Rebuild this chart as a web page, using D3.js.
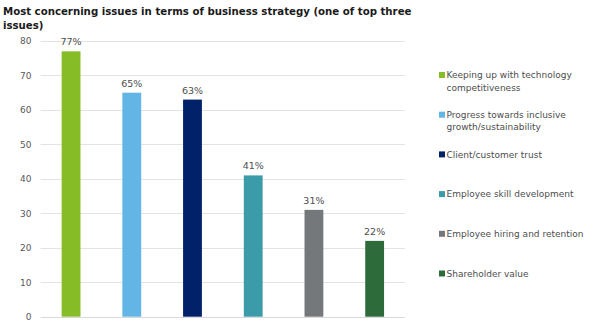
<!DOCTYPE html>
<html><head><meta charset="utf-8">
<script src="https://cdn.jsdelivr.net/npm/d3@7"></script>
<style>body{margin:0;background:#fff;} svg{display:block;}</style>
</head><body>
<script>
const categories = ["Keeping up with technology competitiveness","Progress towards inclusive growth/sustainability","Client/customer trust","Employee skill development","Employee hiring and retention","Shareholder value"];
const legendLines = [["Keeping up with technology","competitiveness"],["Progress towards inclusive","growth/sustainability"],["Client/customer trust"],["Employee skill development"],["Employee hiring and retention"],["Shareholder value"]];
const values = [77,65,63,41,31,22];
const valueLabels = ["77%","65%","63%","41%","31%","22%"];
const colors = ["#86bc25","#62b5e5","#012169","#3b9ba9","#75787b","#2d6b3b"];
const yTicks = [0,10,20,30,40,50,60,70,80];
const titleLines = ["Most concerning issues in terms of business strategy (one of top three","issues)"];

const W=596,H=335;
const svg=d3.select("body").append("svg").attr("width",W).attr("height",H);
const font="DejaVu Sans, Verdana, sans-serif";
const x=d3.scaleBand().domain(categories).range([40.7,405]).paddingInner(0.69).paddingOuter(0.345);
const y=d3.scaleLinear().domain([0,80]).range([316.7,41]);

svg.append("g").selectAll("text").data(titleLines).join("text")
  .attr("x",3).attr("y",(d,i)=>15+i*13.5).text(d=>d)
  .attr("font-family",font).attr("font-weight","bold").attr("font-size",10.2).attr("fill","#1a1a1a");

const g=svg.append("g");
g.selectAll("line.grid").data(yTicks).join("line").attr("class","grid")
  .attr("x1",40.7).attr("x2",405).attr("y1",d=>Math.round(y(d))+0.5).attr("y2",d=>Math.round(y(d))+0.5)
  .attr("stroke",d=>d===0?"#d9d9d9":"#e3e3e3").attr("stroke-width",1);

const yAxis=d3.axisLeft(y).tickValues(yTicks).tickSize(0).tickPadding(0);
const ya=svg.append("g").attr("transform","translate(31.5,0)").call(yAxis);
ya.select(".domain").remove();
ya.selectAll("text").attr("font-family",font).attr("font-size",9).attr("fill","#595959");

g.selectAll("rect.bar").data(values).join("rect").attr("class","bar")
  .attr("x",(d,i)=>x(categories[i])).attr("width",x.bandwidth())
  .attr("y",d=>y(d)).attr("height",d=>y(0)-y(d))
  .attr("fill",(d,i)=>colors[i]);

g.selectAll("text.lbl").data(values).join("text").attr("class","lbl")
  .attr("x",(d,i)=>x(categories[i])+x.bandwidth()/2).attr("y",d=>y(d)-6)
  .attr("text-anchor","middle").text((d,i)=>valueLabels[i])
  .attr("font-family",font).attr("font-size",9.5).attr("fill","#4d4d4d");

const leg=svg.append("g");
const ly=d3.scaleLinear().domain([0,5]).range([75,273.5]);
legendLines.forEach((lines,i)=>{
  const cy=ly(i);
  leg.append("rect").attr("x",439).attr("y",cy-3).attr("width",6).attr("height",6).attr("fill",colors[i]);
  lines.forEach((t,j)=>{
    leg.append("text").attr("x",446.5).attr("y",cy+3.3+j*12.4).text(t)
      .attr("font-family",font).attr("font-size",9).attr("fill","#4d4d4d");
  });
});
</script>
</body></html>
